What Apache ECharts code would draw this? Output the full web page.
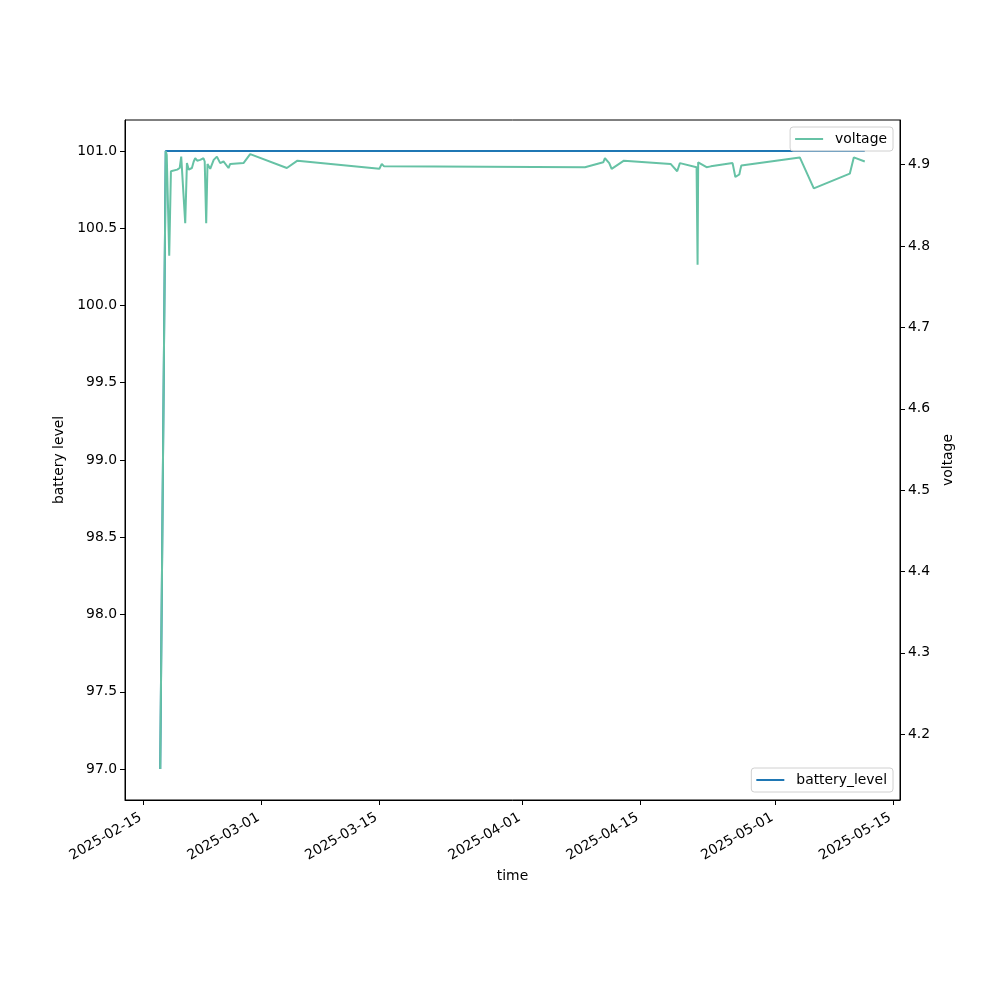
<!DOCTYPE html>
<html>
<head>
<meta charset="utf-8">
<script src="https://cdn.jsdelivr.net/npm/echarts@6/dist/echarts.min.js"></script>
<style>html,body{margin:0;padding:0;background:#fff}#c{width:1000px;height:1000px}</style>
</head>
<body>
<div id="c"></div>
<script>
const voltageTimes = [
'2025-02-17 00:24','2025-02-17 16:05','2025-02-17 18:56','2025-02-18 02:03','2025-02-18 06:53',
'2025-02-18 10:35','2025-02-19 00:50','2025-02-19 07:57','2025-02-19 12:13','2025-02-19 15:56',
'2025-02-19 23:37','2025-02-20 04:28','2025-02-20 09:35','2025-02-20 18:42','2025-02-20 23:50',
'2025-02-21 04:06','2025-02-21 09:48','2025-02-21 18:20','2025-02-22 03:44','2025-02-22 07:09',
'2025-02-22 11:25','2025-02-22 15:07','2025-02-22 22:49','2025-02-23 08:47','2025-02-23 17:54',
'2025-02-24 03:17','2025-02-24 12:42','2025-02-25 02:56','2025-02-25 07:46','2025-02-26 21:39',
'2025-02-27 16:44','2025-03-04 01:15','2025-03-05 07:26','2025-03-15 00:58','2025-03-15 07:48',
'2025-03-15 14:21','2025-04-08 10:48','2025-04-10 14:56','2025-04-10 19:45','2025-04-11 08:01',
'2025-04-11 14:51','2025-04-13 01:52','2025-04-18 14:53','2025-04-19 09:40','2025-04-19 17:22',
'2025-04-21 16:55','2025-04-21 19:46','2025-04-21 21:29','2025-04-22 21:24','2025-04-23 09:36',
'2025-04-25 23:31','2025-04-26 07:26','2025-04-26 18:43','2025-04-26 21:36','2025-04-27 00:29',
'2025-04-27 06:00','2025-05-03 23:02','2025-05-05 15:00','2025-05-09 21:32','2025-05-10 08:56',
'2025-05-11 16:15'
];
const voltageValues = [
4.157,4.917,4.912,4.788,4.892,
4.893,4.894,4.896,4.910,4.908,
4.828,4.902,4.894,4.896,4.904,
4.908,4.905,4.906,4.908,4.904,
4.828,4.901,4.895,4.906,4.910,
4.902,4.904,4.896,4.901,4.902,
4.913,4.896,4.905,4.895,4.901,
4.898,4.897,4.903,4.908,4.902,
4.895,4.905,4.901,4.892,4.902,
4.897,4.777,4.903,4.897,4.898,
4.902,4.885,4.888,4.894,4.899,
4.900,4.909,4.871,4.889,4.909,
4.904
];
const batteryTimes = voltageTimes;
const batteryValues = [97].concat(new Array(voltageTimes.length - 1).fill(101));

const xTickDates = ['2025-02-15','2025-03-01','2025-03-15','2025-04-01','2025-04-15','2025-05-01','2025-05-15'];
const leftTicks = [97.0,97.5,98.0,98.5,99.0,99.5,100.0,100.5,101.0];
const rightTicks = [4.2,4.3,4.4,4.5,4.6,4.7,4.8,4.9];

function parseT(s){
  const [d,t] = s.split(' ');
  const [Y,M,D] = d.split('-').map(Number);
  let h=0,m=0;
  if(t){[h,m]=t.split(':').map(Number);}
  return Date.UTC(Y,M-1,D,h,m);
}
function fmtDate(v){
  const d = new Date(v);
  const p = n => String(n).padStart(2,'0');
  return d.getUTCFullYear()+'-'+p(d.getUTCMonth()+1)+'-'+p(d.getUTCDate());
}
function pad(lo,hi){const r=hi-lo;return [lo-0.05*r, hi+0.05*r];}

const vData = voltageTimes.map((t,i)=>[parseT(t), voltageValues[i]]);
const bData = batteryTimes.map((t,i)=>[parseT(t), batteryValues[i]]);
const tAll = vData.map(d=>d[0]);
const [xMin,xMax] = pad(Math.min(...tAll), Math.max(...tAll));
const [lMin,lMax] = pad(Math.min(...batteryValues), Math.max(...batteryValues));
const [rMin,rMax] = pad(Math.min(...voltageValues), Math.max(...voltageValues));
const xTicks = xTickDates.map(parseT);

const FONT = 'DejaVu Sans';
const txt = {color:'#000', fontFamily:FONT, fontSize:13.9};

const chart = echarts.init(document.getElementById('c'), null, {renderer:'canvas'});
chart.setOption({
  animation:false,
  backgroundColor:'#fff',
  textStyle:{fontFamily:FONT},
  grid:{left:125, right:100, top:120, bottom:200, show:true, borderColor:'#000', borderWidth:1, backgroundColor:'transparent'},
  xAxis:{
    type:'value', min:xMin, max:xMax,
    name:'time', nameLocation:'middle', nameGap:65, nameTextStyle:txt,
    axisLine:{show:true, onZero:false, lineStyle:{color:'#000', width:1}},
    axisTick:{show:true, length:5, lineStyle:{color:'#000'}, customValues:xTicks},
    axisLabel:Object.assign({rotate:30, margin:15, padding:[0,3,0,0], customValues:xTicks, formatter:fmtDate}, txt),
    splitLine:{show:false}
  },
  yAxis:[{
    type:'value', min:lMin, max:lMax, position:'left',
    name:'battery level', nameLocation:'middle', nameGap:54, nameTextStyle:txt,
    axisLine:{show:true, lineStyle:{color:'#000'}},
    axisTick:{show:true, length:5, lineStyle:{color:'#000'}, customValues:leftTicks},
    axisLabel:Object.assign({margin:8, customValues:leftTicks, formatter:v=>v.toFixed(1)}, txt),
    splitLine:{show:false}
  },{
    type:'value', min:rMin, max:rMax, position:'right',
    name:'voltage', nameLocation:'middle', nameGap:38, nameTextStyle:txt,
    axisLine:{show:true, lineStyle:{color:'#000'}},
    axisTick:{show:true, length:5, lineStyle:{color:'#000'}, customValues:rightTicks},
    axisLabel:Object.assign({margin:8, customValues:rightTicks, formatter:v=>v.toFixed(1)}, txt),
    splitLine:{show:false}
  }],
  legend:[{
    data:['voltage'], right:107, top:127, orient:'vertical',
    icon:'rect', itemWidth:28, itemHeight:2, padding:[5,6,5,5],
    borderColor:'#d0d0d0', borderWidth:1, borderRadius:3, backgroundColor:'rgba(255,255,255,0.8)',
    textStyle:Object.assign({padding:[0,0,0,7]}, txt)
  },{
    data:['battery_level'], right:107, top:768, orient:'vertical',
    icon:'rect', itemWidth:28, itemHeight:2, padding:[5,6,5,5],
    borderColor:'#d0d0d0', borderWidth:1, borderRadius:3, backgroundColor:'rgba(255,255,255,0.8)',
    textStyle:Object.assign({padding:[0,0,0,7]}, txt)
  }],
  series:[{
    name:'battery_level', type:'line', yAxisIndex:0, data:bData, symbol:'none',
    lineStyle:{color:'#1f77b4', width:2}, itemStyle:{color:'#1f77b4'}, z:2
  },{
    name:'voltage', type:'line', yAxisIndex:1, data:vData, symbol:'none',
    lineStyle:{color:'#66c2a5', width:2}, itemStyle:{color:'#66c2a5'}, z:3
  }]
});
</script>
</body>
</html>
